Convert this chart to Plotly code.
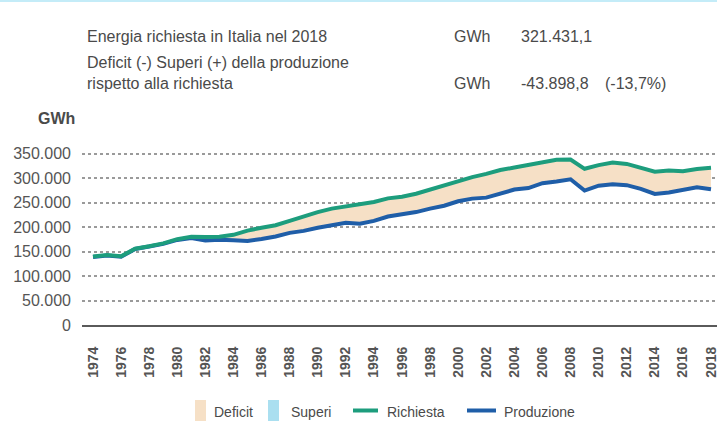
import plotly.graph_objects as go

# ---- data (GWh) ----
years = list(range(1974, 2019))
richiesta = [140000, 143000, 140500, 156000, 161000, 167000, 175500, 180500, 180000, 180500,
             184500, 193000, 199000, 204000, 213000, 222500, 231000, 238000, 242500, 246000,
             251500, 259000, 262500, 268500, 277500, 285500, 294500, 302500, 309000, 317000,
             322000, 328000, 334000, 338000, 338500, 319500, 327000, 332500, 329500, 322000,
             313500, 316000, 314500, 319000, 321431]
produzione = [139000, 142000, 139500, 155500, 160500, 166000, 174000, 178000, 173000, 174500,
              173500, 172000, 176000, 181000, 188500, 192500, 199000, 204000, 209000, 207000,
              213000, 222000, 226000, 231000, 238000, 244000, 253000, 258500, 260500, 268000,
              277000, 280000, 290000, 293500, 298000, 275000, 285000, 288000, 286000, 278500,
              268000, 271000, 276500, 281500, 277532]
tick_years = list(range(1974, 2019, 2))
y_ticks = list(range(0, 350001, 50000))
legend_labels = ["Deficit", "Superi", "Richiesta", "Produzione"]
header_rows = [
    ["Energia richiesta in Italia nel 2018", "GWh", "321.431,1", ""],
    ["Deficit (-) Superi (+) della produzione<br>rispetto alla richiesta", "GWh", "-43.898,8", "(-13,7%)"],
]

GREEN = "#1d9d7d"
BLUE = "#1f5ea8"
DEFICIT = "#f6e0c6"
SUPERI = "#aadff0"
TXT = "#4a4a4a"

upper_sup = [max(p, r) for p, r in zip(produzione, richiesta)]
lower_def = [min(p, r) for p, r in zip(produzione, richiesta)]

fig = go.Figure()
# deficit fill
fig.add_trace(go.Scatter(x=years, y=lower_def, mode="lines", line=dict(width=0),
                         showlegend=False, hoverinfo="skip"))
fig.add_trace(go.Scatter(x=years, y=richiesta, mode="lines", line=dict(width=0),
                         fill="tonexty", fillcolor=DEFICIT, name="Deficit", showlegend=False))
# superi fill
fig.add_trace(go.Scatter(x=years, y=richiesta, mode="lines", line=dict(width=0),
                         showlegend=False, hoverinfo="skip"))
fig.add_trace(go.Scatter(x=years, y=upper_sup, mode="lines", line=dict(width=0),
                         fill="tonexty", fillcolor=SUPERI, name="Superi", showlegend=False))
fig.add_trace(go.Scatter(x=years, y=produzione, mode="lines", name="Produzione",
                         line=dict(color=BLUE, width=4), showlegend=False))
fig.add_trace(go.Scatter(x=years, y=richiesta, mode="lines", name="Richiesta",
                         line=dict(color=GREEN, width=4), showlegend=False))

L, T, B = 82, 149, 325
PW, PH = 717 - L, B - T


def px(x):
    return (x - L) / PW


def py(y):
    return (B - y) / PH


ann = []
shapes = []
# top light-blue border
shapes.append(dict(type="line", xref="paper", yref="paper", x0=px(0), x1=px(717),
                   y0=py(1), y1=py(1), line=dict(color="#c4ecf8", width=2)))
# header
row_y = [37, 83]
for i, row in enumerate(header_rows):
    yy = row_y[i]
    if i == 0:
        ann.append(dict(x=px(85), y=py(yy), text=row[0], xanchor="left", yanchor="middle"))
    else:
        ann.append(dict(x=px(85), y=py(72.5), text=row[0], xanchor="left", yanchor="middle"))
    ann.append(dict(x=px(452), y=py(yy), text=row[1], xanchor="left", yanchor="middle"))
    ann.append(dict(x=px(519), y=py(yy), text=row[2], xanchor="left", yanchor="middle"))
    if row[3]:
        ann.append(dict(x=px(603), y=py(yy), text=row[3], xanchor="left", yanchor="middle"))
for a in ann:
    a.update(xref="paper", yref="paper", showarrow=False, align="left",
             font=dict(size=16, color=TXT))
# unit label
ann.append(dict(x=px(36), y=py(118), text="<b>GWh</b>", xref="paper", yref="paper",
                xanchor="left", yanchor="middle", showarrow=False,
                font=dict(size=16, color=TXT)))

# manual legend
ly = 410.5
shapes.append(dict(type="rect", xref="paper", yref="paper", x0=px(195), x1=px(206),
                   y0=py(400), y1=py(421), fillcolor=DEFICIT, line=dict(width=0)))
shapes.append(dict(type="rect", xref="paper", yref="paper", x0=px(268), x1=px(279),
                   y0=py(400), y1=py(421), fillcolor=SUPERI, line=dict(width=0)))
shapes.append(dict(type="line", xref="paper", yref="paper", x0=px(353), x1=px(378),
                   y0=py(ly), y1=py(ly), line=dict(color=GREEN, width=4)))
shapes.append(dict(type="line", xref="paper", yref="paper", x0=px(467), x1=px(496),
                   y0=py(ly), y1=py(ly), line=dict(color=BLUE, width=4)))
for lab, xx in zip(legend_labels, [212, 289, 385, 502]):
    ann.append(dict(x=px(xx), y=py(ly + 1), text=lab, xref="paper", yref="paper",
                    xanchor="left", yanchor="middle", showarrow=False,
                    font=dict(size=14, color=TXT)))

fig.update_layout(
    width=717, height=425,
    margin=dict(l=L, r=0, t=T, b=425 - B),
    paper_bgcolor="white", plot_bgcolor="white",
    separators=",.", showlegend=False,
    font=dict(family="Liberation Sans, Arial, sans-serif", color=TXT),
    annotations=ann, shapes=shapes,
)
fig.update_xaxes(range=[1973.217, 2018.427], tickvals=tick_years,
                 ticktext=[str(y) for y in tick_years], tickangle=-90,
                 tickfont=dict(size=14, color="#555555", weight="bold"),
                 showgrid=False, showline=True, linecolor="#5a5a5a", linewidth=2,
                 ticks="", ticklabelstandoff=14, zeroline=False, automargin=False,
                 ticklabeloverflow="allow")
fig.update_yaxes(range=[0, 360000], tickvals=y_ticks, tickformat=",",
                 tickfont=dict(size=16, color="#555555"),
                 showgrid=True, gridcolor="#9a9a9a", griddash="dot", gridwidth=1.5,
                 zeroline=False, ticks="", ticklabelstandoff=10, automargin=False)

fig.write_html("out.html", config={"displayModeBar": False},
               post_script="document.body.style.margin='0';document.body.style.overflow='hidden';")
